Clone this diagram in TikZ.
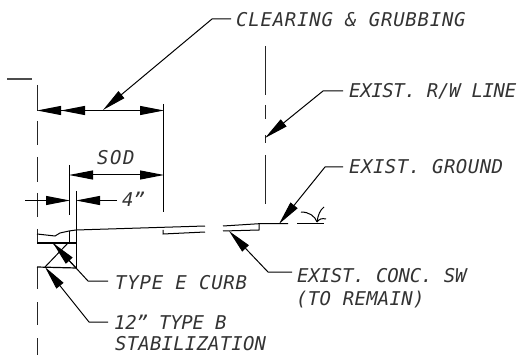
\documentclass[tikz,border=0pt]{standalone}
\usepackage{fontspec}
\setmainfont{DejaVu Sans Mono}
\usetikzlibrary{arrows.meta}
\tikzset{
    dimhead/.style={-{Triangle[length=24pt,width=9pt]}},
    lbl/.style={font=\fontsize{19}{19}\selectfont\itshape\addfontfeature{LetterSpace=#1},text=black!80,anchor=base west,inner sep=0pt},
    lbl/.default=0,
    ln/.style={line width=1pt},
    cl/.style={line width=1pt,black!85}
}
\begin{document}
\begin{tikzpicture}[x=1pt,y=-1pt]
        \useasboundingbox (0,0) rectangle (524,355);

        % Labels
        \node[lbl=4] (clear) at (236,27) {CLEARING \& GRUBBING};
        \node[lbl=-2] (rw) at (349,98) {EXIST. R/W LINE};
        \node[lbl=2.5] (ground) at (349,174) {EXIST. GROUND};
        \node[lbl=-1] (sw) at (297,282) {EXIST. CONC. SW};
        \node[lbl=1.5] (remain) at (296,305) {(TO REMAIN)};
        \node[lbl=4] (curb) at (115,289) {TYPE E CURB};
        \node[lbl=-1.5] (stab) at (114,329.5) {12" TYPE B};
        \node[lbl=1] (stab2) at (115,350.5) {STABILIZATION};
        \node[lbl=8] (sod) at (97,165) {SOD};
        \node[lbl] (four) at (122,207) {4"};

        % Centre lines
        \draw[black!70,line width=1.2pt] (7,79) -- (32,79);
        \foreach \a/\b in {85/111,121/145,157/182,193/217,229/243,267/289,302/325,338/355}
            \draw[cl] (37,\a) -- (37,\b);
        \foreach \a/\b in {46/95,105/119,135/143,155/204}
            \draw[cl] (265,\a) -- (265,\b);

        % Extension lines
        \draw[ln] (163.5,104) -- (163.5,212);
        \draw[ln] (69.5,165) -- (69.5,215);
        \draw[ln] (76.5,191) -- (76.5,268);

        % Dimensions
        \coordinate (d1) at (37,110.5);
        \coordinate (d2) at (61,110.5);
        \coordinate (d3) at (164,110.5);
        \draw[ln,dimhead] (103,110.5) -- (d1);
        \draw[ln,dimhead] (103,110.5) -- (d2);
        \draw[ln,dimhead] (103,110.5) -- (d3);
        \coordinate (s1) at (69,175);
        \coordinate (s2) at (164,175);
        \draw[ln,dimhead] (116,175) -- (s1);
        \draw[ln,dimhead] (116,175) -- (s2);
        \coordinate (f1) at (70,200.5);
        \coordinate (f2) at (76,200.5);
        \draw[ln,dimhead] (25,200.5) -- (f1);
        \draw[ln,dimhead] (117,200.5) -- (f2);

        % Leaders
        \coordinate (tc) at (103,110);
        \draw[ln,dimhead] (231,19) -- (212,19) -- (tc);
        \coordinate (tr) at (265,138);
        \draw[ln,dimhead] (343,91) -- (323,91) -- (tr);
        \coordinate (tg) at (279,224);
        \draw[ln,dimhead] (343,167) -- (325,167) -- (tg);
        \coordinate (ts) at (229,231);
        \draw[ln,dimhead] (292,272) -- (268,272) -- (ts);
        \coordinate (tb) at (53,243);
        \draw[ln,dimhead] (108,281) -- (88,281) -- (tb);
        \coordinate (te) at (45,267);
        \draw[ln,dimhead] (108,322) -- (89,322) -- (te);

        % Surface and sidewalk
        \draw[ln] (37,234) -- (55,236) -- (60,233) -- (69,231) -- (76,230) -- (205,226);
        \draw[ln] (163,230) -- (163,234) -- (205,232);
        \draw[ln] (223,226) -- (259,223.7) -- (288,223.7);
        \draw[ln] (223,231) -- (259,230) -- (259,223.7);
        \draw[ln] (297,224) -- (324,224);

        % Grass
        \draw[ln] (301,212) .. controls (309,212) and (315,216) .. (317,222);
        \draw[ln] (317,222) .. controls (318,215) and (320,210) .. (324,207);
        \draw[ln] (317,222) .. controls (319,219) and (322,218) .. (326,219);

        % Curb and base
        \draw[line width=1.2pt] (37,243) -- (76.5,243);
        \draw[line width=1.2pt] (37,267) -- (76.5,268);
        \draw[ln] (69.5,231) -- (69.5,243);
        \draw[ln] (45,267) -- (68,243);
        \draw[ln] (53,243) -- (76,268);
\end{tikzpicture}
\end{document}
